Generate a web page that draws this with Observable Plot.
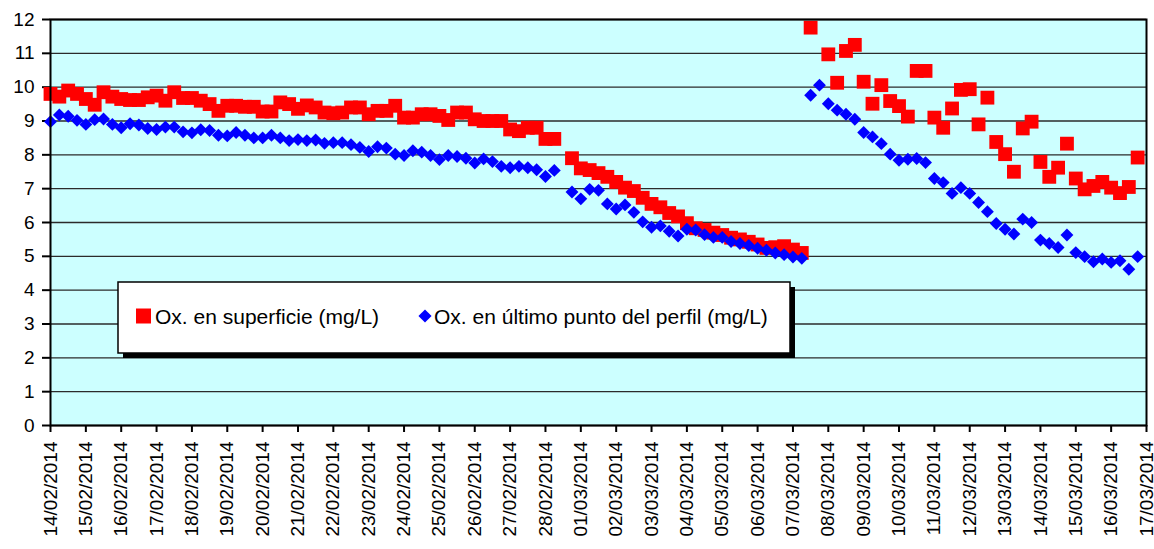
<!DOCTYPE html>
<html>
<head>
<meta charset="utf-8">
<script src="https://cdn.jsdelivr.net/npm/d3@7"></script>
<script src="https://cdn.jsdelivr.net/npm/@observablehq/plot@0.6"></script>
<style>
  html, body { margin: 0; padding: 0; background: #fff; }
  #chart { width: 1154px; height: 549px; overflow: hidden; }
</style>
</head>
<body>
<div id="chart"></div>
<script>
// Sampling: one reading every 6 hours starting 14/02/2014 00:00
const startDate = "2014-02-14T00:00:00Z";
const stepHours = 6;

const seriesNames = ["Ox. en superficie (mg/L)", "Ox. en último punto del perfil (mg/L)"];

const surface = [
  9.8, 9.72, 9.9, 9.8, 9.65, 9.48, 9.85, 9.72, 9.65, 9.62,
  9.62, 9.7, 9.75, 9.6, 9.85, 9.68, 9.68, 9.6, 9.5, 9.3,
  9.45, 9.45, 9.42, 9.42, 9.28, 9.28, 9.55, 9.5, 9.36, 9.46,
  9.4, 9.25, 9.23, 9.25, 9.4, 9.4, 9.2, 9.3, 9.3, 9.45,
  9.1, 9.1, 9.2, 9.2, 9.15, 9.03, 9.25, 9.25, 9.05, 9.0,
  9.0, 9.0, 8.75, 8.7, 8.8, 8.8, 8.47, 8.47, null, 7.9,
  7.6, 7.55, 7.46, 7.35, 7.2, 7.03, 6.93, 6.73, 6.55, 6.45,
  6.28, 6.18, 5.98, 5.83, 5.78, 5.7, 5.63, 5.55, 5.5, 5.43,
  5.35, 5.25, 5.27, 5.3, 5.2, 5.1, 11.76, null, 10.97, 10.13,
  11.07, 11.25, 10.16, 9.51, 10.06, 9.59, 9.44, 9.13, 10.48, 10.48,
  9.1, 8.8, 9.37, 9.92, 9.94, 8.9, 9.69, 8.38, 8.02, 7.5,
  8.78, 8.98, 7.79, 7.35, 7.62, 8.33, 7.3, 6.98, 7.08, 7.2,
  7.03, 6.87, 7.05, 7.92
];

const profileEnd = [
  8.98, 9.18, 9.14, 9.02, 8.9, 9.04, 9.06, 8.9, 8.8, 8.92,
  8.88, 8.78, 8.75, 8.82, 8.82, 8.68, 8.65, 8.74, 8.72, 8.58,
  8.56, 8.66, 8.58, 8.5, 8.5, 8.58, 8.5, 8.42, 8.45, 8.42,
  8.44, 8.34, 8.36, 8.36, 8.3, 8.22, 8.1, 8.24, 8.2, 8.02,
  7.98, 8.12, 8.08, 7.98, 7.86, 7.98, 7.95, 7.9, 7.76, 7.88,
  7.8, 7.66, 7.62, 7.66, 7.62, 7.56, 7.36, 7.54, null, 6.9,
  6.7, 6.98, 6.95, 6.55, 6.4, 6.52, 6.3, 6.02, 5.86, 5.9,
  5.74, 5.6, 5.8, 5.78, 5.64, 5.56, 5.56, 5.44, 5.38, 5.32,
  5.24, 5.18, 5.1, 5.05, 4.98, 4.94, 9.76, 10.06, 9.51, 9.32,
  9.2, 9.05, 8.66, 8.53, 8.33, 8.02, 7.84, 7.87, 7.89, 7.77,
  7.3, 7.18, 6.86, 7.03, 6.86, 6.59, 6.32, 5.97, 5.8, 5.66,
  6.1, 6.0, 5.48, 5.38, 5.26, 5.63, 5.11, 4.99, 4.84, 4.92,
  4.82, 4.87, 4.62, 4.99
];

const xTickLabels = [
  "14/02/2014","15/02/2014","16/02/2014","17/02/2014","18/02/2014","19/02/2014",
  "20/02/2014","21/02/2014","22/02/2014","23/02/2014","24/02/2014","25/02/2014",
  "26/02/2014","27/02/2014","28/02/2014","01/03/2014","02/03/2014","03/03/2014",
  "04/03/2014","05/03/2014","06/03/2014","07/03/2014","08/03/2014","09/03/2014",
  "10/03/2014","11/03/2014","12/03/2014","13/03/2014","14/03/2014","15/03/2014",
  "16/03/2014","17/03/2014"
];

const yTicks = [0, 1, 2, 3, 4, 5, 6, 7, 8, 9, 10, 11, 12];

const parseDay = d3.utcParse("%d/%m/%Y");
const fmtDay = d3.utcFormat("%d/%m/%Y");
const xTicks = xTickLabels.map(parseDay);
const t0 = new Date(startDate).getTime();

const data = surface.map((v, i) => ({
  date: new Date(t0 + i * stepHours * 3600 * 1000),
  surface: v,
  profileEnd: profileEnd[i]
}));

const FONT = "'Liberation Sans', Arial, Helvetica, sans-serif";

const chart = Plot.plot({
  width: 1154,
  height: 549,
  marginLeft: 50,
  marginRight: 8,
  marginTop: 19,
  marginBottom: 124,
  style: { fontFamily: FONT, fontSize: "19px", background: "white", color: "black" },
  x: { type: "utc", domain: [xTicks[0], xTicks[xTicks.length - 1]] },
  y: { domain: [0, 12] },
  marks: [
    Plot.frame({ fill: "#CCFFFF" }),
    Plot.gridY(yTicks, { stroke: "#2b2b2b", strokeOpacity: 1, strokeWidth: 1.3 }),
    Plot.axisY(yTicks, { tickSize: 8, tickPadding: 8, strokeWidth: 2, fontSize: 19, label: null, tickFormat: d => String(d) }),
    Plot.axisX(xTicks, { tickSize: 7, tickPadding: 9, tickRotate: -90, strokeWidth: 2, fontSize: 19, label: null, tickFormat: fmtDay }),
    Plot.dot(data, { x: "date", y: "surface", symbol: "square", r: 7.8, fill: "#FF0000", stroke: "none" }),
    Plot.dot(data, { x: "date", y: "profileEnd", symbol: "diamond2", r: 5.8, fill: "#0000FF", stroke: "none" }),
    Plot.frame({ stroke: "black", strokeWidth: 2 })
  ]
});

// Legend box drawn inside the plot area (layout only)
const svg = d3.select(chart);
const lg = svg.append("g").attr("font-family", FONT).attr("font-size", 21).attr("text-anchor", "start");
const box = { x: 118, y: 282, w: 672, h: 71, shadow: 5 };
lg.append("rect").attr("x", box.x + box.shadow).attr("y", box.y + box.shadow)
  .attr("width", box.w).attr("height", box.h).attr("fill", "black");
lg.append("rect").attr("x", box.x).attr("y", box.y).attr("width", box.w).attr("height", box.h)
  .attr("fill", "white").attr("stroke", "black").attr("stroke-width", 1.5);

const items = [
  { name: seriesNames[0], color: "#FF0000", symbol: d3.symbolSquare, size: 15 * 15, sx: 143.5, tx: 155 },
  { name: seriesNames[1], color: "#0000FF", symbol: d3.symbolDiamond2, size: 10.5 * 10.5, sx: 425, tx: 434 }
];
const cy = 316;
for (const it of items) {
  lg.append("path").attr("d", d3.symbol(it.symbol, it.size)())
    .attr("transform", `translate(${it.sx},${cy})`).attr("fill", it.color);
  lg.append("text").attr("x", it.tx).attr("y", cy).attr("dy", "0.36em")
    .attr("text-anchor", "start").attr("fill", "black").text(it.name);
}

document.getElementById("chart").appendChild(chart);
</script>
</body>
</html>
